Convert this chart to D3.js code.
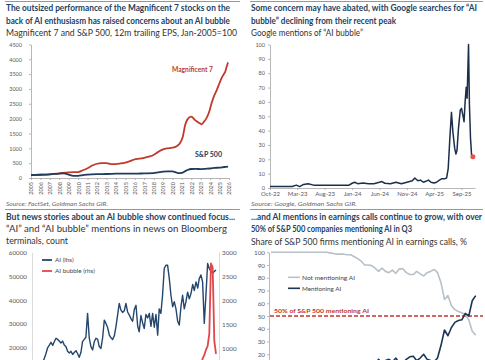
<!DOCTYPE html>
<html><head><meta charset="utf-8">
<script src="https://cdn.jsdelivr.net/npm/d3@7"></script>
<style>body{margin:0;background:#fff}svg{display:block;font-family:Lato,"Open Sans",sans-serif}</style>
</head><body><div id="c"></div>
<script>
// ---------- Panel 1 data: 12m trailing EPS, Jan-2005 = 100 ----------
const p1Years = [2005,2006,2007,2008,2009,2010,2011,2012,2013,2014,2015,2016,2017,2018,2019,2020,2021,2022,2023,2024,2025,2026];
const m7Years = [2005,2006,2007,2008,2009,2010,2010.5,2011,2011.5,2012,2012.5,2013,2013.5,2014,2014.5,2015,2015.5,2016,2016.5,2017,2017.5,2018,2018.5,2019,2019.5,2020,2020.5,2020.8,2021.1,2021.35,2021.6,2022,2022.4,2022.8,2023.1,2023.35,2023.6,2023.9,2024.15,2024.4,2024.7,2025,2025.2,2025.45,2025.6,2025.75,2025.9];
const m7Values = [100,110,125,158,190,200,260,330,420,480,500,500,470,470,490,520,570,630,650,680,720,775,880,965,1000,1020,1080,1170,1390,1785,1975,2065,1950,1860,1808,1900,2010,2233,2515,2750,2963,3200,3356,3500,3580,3750,3895];
const spxYears = [2005,2006,2007,2008,2008.5,2009,2009.5,2010,2010.5,2011,2012,2013,2014,2015,2016,2017,2018,2018.5,2019,2019.5,2020,2020.3,2020.6,2021,2021.3,2021.6,2022,2022.5,2023,2023.5,2024,2024.5,2025,2025.5,2025.9];
const spxValues = [100,110,125,150,155,110,70,72,100,115,130,135,145,150,145,155,165,190,213,225,225,200,165,175,220,270,303,305,300,310,320,340,350,370,380];
const p1YTicks = [0,500,1000,1500,2000,2500,3000,3500,4000,4500];

// ---------- Panel 2 data: Google mentions of "AI bubble" ----------
const gDates = ["2022-10-01","2023-02-01","2023-02-25","2023-03-15","2023-04-06","2023-05-01","2023-06-01","2023-09-01","2023-10-01","2023-12-15","2024-01-01","2024-01-15","2024-02-01","2024-03-01","2024-04-01","2024-05-01","2024-06-01","2024-06-15","2024-07-01","2024-08-01","2024-09-01","2024-10-01","2024-11-01","2024-12-01","2024-12-15","2025-01-01","2025-01-15","2025-02-01","2025-03-01","2025-03-15","2025-04-01","2025-04-15","2025-05-01","2025-05-15","2025-06-01","2025-06-10","2025-06-19","2025-06-28","2025-07-07","2025-07-15","2025-07-25","2025-08-01","2025-08-07","2025-08-15","2025-08-25","2025-09-01","2025-09-10","2025-09-15","2025-09-21","2025-09-27","2025-10-02","2025-10-10","2025-10-15","2025-10-21","2025-10-27","2025-11-03"];
const gValues = [1,1,2,1,2.5,3,2,2,2,2,3.3,4,3,3.5,3,3,4,4.5,3.3,3,4,3,4,5,7,5,5.5,4,5.5,4,3.5,4,5.5,6.5,6.5,7,13.7,34.6,52.7,39,27.6,23.7,26.5,41.6,54.3,55.5,49.7,46.2,60,70.2,62.5,100,58,34.6,23,21.8];
const gTickDates = ["2022-10-01","2023-03-01","2023-08-01","2024-01-01","2024-06-01","2024-11-01","2025-04-01","2025-09-01"];
const gYTicks = [0,10,20,30,40,50,60,70,80,90,100];

// ---------- Panel 3 data: Bloomberg news mentions (monthly) ----------
const newsStart = "2017-01-01";
const aiNews = [6000,8000,9000,11000,13500,15500,17500,20000,21100,22300,
21000,22500,24000,23500,22800,22000,22800,21200,20500,18500,
17800,18500,17200,18000,18800,17500,16000,18000,22600,23500,
24400,34400,24000,20500,19100,22500,24000,23500,20500,19700,
24000,31600,30200,28500,25300,24200,23500,25000,29000,34000,
38600,35800,34800,35500,38600,35000,33700,32200,31100,36000,
37800,29000,26700,33500,30500,28100,34000,32500,34400,29000,
34400,28600,34000,25300,36300,34400,42000,53200,54600,54600,
49000,42000,37200,39300,36300,31100,29500,37200,42000,36300,
39300,43300,40500,42700,46500,44000,47600,45000,49000,50500,
47600,30200,42000,55300,53200,52000,51200,52000,52600];
const aiBubble = [30,35,40,32,45,38,50,42,36,48,
40,52,45,38,55,47,42,50,58,44,
46,52,60,48,55,62,50,58,65,70,
60,72,66,58,75,68,80,70,64,78,
85,72,90,80,76,95,88,82,100,92,
98,110,95,105,120,100,112,125,108,118,
130,115,140,125,135,150,128,145,160,138,
150,170,145,160,180,155,175,190,165,185,
200,175,210,190,220,200,235,215,250,230,
260,240,280,300,260,320,350,380,400,600,
780,850,960,1040,1300,2760,2680,1150,880];
const newsLTicks = [20000,30000,40000,50000,60000];
const newsRTicks = [1000,1500,2000,2500,3000];

// ---------- Panel 4 data: share of S&P 500 firms mentioning AI (quarterly) ----------
const notMentioning = [100,100,100,100,100,100,100,100,100,100,100,100,100,100,100,100,100,
99.5,99,98.5,98.5,98.5,98,98,
96.5,95,93,90,90,89.5,87.5,
85,87.5,85,84,86,83.5,87,87,84,82.5,
82.5,85,83,81.5,84,85,86.5,84,76,63,
66,58,55,53.5,52.5,51,47,38,35];
const mentioning = [0,0,0,0,0,0.5,0,1,0.5,1,1,1.5,1,1.5,2,1.5,2,
2,3,3,3.5,3,4,4,
5,6,8,10,10,11,12.5,
16,13,15,16,14,17,13,13,16,18,
18.5,15,17,20,16,15,14,17,27,39,
34.5,41,45,46.5,47,52,50,62,66];
const earnYTicks = [20,30,40,50,60,70,80,90,100];
const threshold = 50;

// ---------- drawing ----------
const W = 485, H = 360;
const NAVY = "#1f3b5e", RED = "#c0392b", TITLE = "#24415e", SUB = "#333", TICK = "#595959", AX = "#a6a6a6";
const FMT = d3.format("d");
const svg = d3.select("#c").append("svg").attr("width", W).attr("height", H);
svg.append("rect").attr("width", W).attr("height", H).attr("fill", "#fff");

function txt(t, x, y, opt) {
  const e = svg.append("text").attr("x", x).attr("y", y).text(t)
    .attr("font-size", opt.size || 8.5)
    .attr("font-weight", opt.bold ? "bold" : "normal")
    .attr("font-style", opt.italic ? "italic" : "normal")
    .attr("fill", opt.fill || SUB);
  if (opt.anchor) e.attr("text-anchor", opt.anchor);
  if (opt.w) e.attr("textLength", opt.w).attr("lengthAdjust", "spacingAndGlyphs");
  return e;
}
function sep(x1, x2, y) {
  svg.append("line").attr("x1", x1).attr("x2", x2).attr("y1", y).attr("y2", y)
    .attr("stroke", "#8c99a6").attr("stroke-width", 1);
}
function styleAxis(g, fs) {
  g.select(".domain").attr("stroke", AX).attr("stroke-width", 0.8);
  g.selectAll(".tick line").attr("stroke", AX).attr("stroke-width", 0.8);
  g.selectAll(".tick text").attr("fill", TICK).attr("font-size", fs).attr("font-family", "Lato, 'Open Sans', sans-serif");
}

// separators
sep(5, 240, 1.5); sep(250, 483, 1.5);
sep(5, 240, 209.5); sep(250, 483, 209.5);

// ===== Panel 1 =====
txt("The outsized performance of the Magnificent 7 stocks on the", 6, 10.5, {bold: true, fill: TITLE, w: 224});
txt("back of AI enthusiasm has raised concerns about an AI bubble", 6, 24, {bold: true, fill: TITLE, w: 224});
txt("Magnificent 7 and S&P 500, 12m trailing EPS, Jan-2005=100", 6, 36, {w: 231});
txt("Source: FactSet, Goldman Sachs GIR.", 6, 205.5, {italic: true, size: 6, fill: "#666", w: 102});

const x1 = d3.scaleLinear().domain([2005, 2026]).range([31, 229]);
const y1 = d3.scaleLinear().domain([0, 4500]).range([178, 44.4]);
const gx1 = svg.append("g").attr("transform", "translate(0,178)")
  .call(d3.axisBottom(x1).tickValues(p1Years).tickFormat(FMT).tickSize(2).tickSizeOuter(0));
styleAxis(gx1, 5.5);
gx1.selectAll(".tick text").attr("transform", "rotate(-90)").attr("text-anchor", "end")
  .attr("x", -4).attr("y", 0).attr("dy", "0.35em");
const gy1 = svg.append("g").attr("transform", "translate(31,0)")
  .call(d3.axisLeft(y1).tickValues(p1YTicks).tickFormat(FMT).tickSize(2).tickPadding(7).tickSizeOuter(0));
styleAxis(gy1, 5.5);

const line1 = d3.line().x(d => x1(d[0])).y(d => y1(d[1])).curve(d3.curveMonotoneX);
svg.append("path").datum(m7Years.map((y, i) => [y, m7Values[i]]))
  .attr("d", line1).attr("fill", "none").attr("stroke", RED).attr("stroke-width", 1.8);
svg.append("path").datum(spxYears.map((y, i) => [y, spxValues[i]]))
  .attr("d", line1).attr("fill", "none").attr("stroke", NAVY).attr("stroke-width", 1.8);
txt("Magnificent 7", 172, 72, {bold: true, size: 6.5, fill: RED, w: 41});
txt("S&P 500", 195, 156.5, {bold: true, size: 6.5, fill: NAVY, w: 27});

// ===== Panel 2 =====
txt("Some concern may have abated, with Google searches for \u201CAI", 251, 10.5, {bold: true, fill: TITLE, w: 226});
txt("bubble\u201D declining from their recent peak", 251, 24, {bold: true, fill: TITLE, w: 145});
txt("Google mentions of \u201CAI bubble\u201D", 251, 36, {w: 112});
txt("Source: Google, Goldman Sachs GIR.", 251, 205.5, {italic: true, size: 6, fill: "#666", w: 106});

const parse = d3.timeParse("%Y-%m-%d");
const x2 = d3.scaleTime().domain([parse("2022-10-01"), parse("2025-11-15")]).range([270, 475]);
const y2 = d3.scaleLinear().domain([0, 100]).range([188, 44.5]);
const gx2 = svg.append("g").attr("transform", "translate(0,188)")
  .call(d3.axisBottom(x2).tickValues(gTickDates.map(parse)).tickFormat(d3.timeFormat("%b-%y")).tickSize(2).tickPadding(2).tickSizeOuter(0));
styleAxis(gx2, 6);
const gy2 = svg.append("g").attr("transform", "translate(270,0)")
  .call(d3.axisLeft(y2).tickValues(gYTicks).tickFormat(FMT).tickSize(2).tickPadding(3).tickSizeOuter(0));
styleAxis(gy2, 5.5);
const gData = gDates.map((d, i) => [parse(d), gValues[i]]);
svg.append("path").datum(gData)
  .attr("d", d3.line().x(d => x2(d[0])).y(d => y2(d[1])))
  .attr("fill", "none").attr("stroke", "#1b2f4a").attr("stroke-width", 1.5).attr("stroke-linejoin", "round");
const last = gData[gData.length - 1];
svg.append("circle").attr("cx", x2(last[0])).attr("cy", y2(last[1])).attr("r", 2.5).attr("fill", "#e8534f");

// ===== Panel 3 =====
txt("But news stories about an AI bubble show continued focus...", 6, 219.5, {bold: true, fill: TITLE, w: 229});
txt("\u201CAI\u201D and \u201CAI bubble\u201D mentions in news on Bloomberg", 6, 232, {w: 221});
txt("terminals, count", 6, 243.5, {w: 62});

const start3 = parse(newsStart);
const newsDates = aiNews.map((_, i) => d3.timeMonth.offset(start3, i));
const x3 = d3.scaleTime().domain([newsDates[0], newsDates[newsDates.length - 1]]).range([36, 216]);
const y3L = d3.scaleLinear().domain([0, 60000]).range([395.5, 252.3]);
const y3R = d3.scaleLinear().domain([0, 3000]).range([396, 252]);
const gy3L = svg.append("g").attr("transform", "translate(32,0)")
  .call(d3.axisLeft(y3L).tickValues(newsLTicks).tickFormat(FMT).tickSize(0).tickPadding(5).tickSizeOuter(0));
styleAxis(gy3L, 6.3); gy3L.select(".domain").attr("stroke", "#d0d0d0");
const gy3R = svg.append("g").attr("transform", "translate(219,0)")
  .call(d3.axisRight(y3R).tickValues(newsRTicks).tickFormat(FMT).tickSize(0).tickPadding(3).tickSizeOuter(0));
styleAxis(gy3R, 6.3); gy3R.select(".domain").attr("stroke", "#d0d0d0");

svg.append("path").datum(aiNews.map((v, i) => [newsDates[i], v]))
  .attr("d", d3.line().x(d => x3(d[0])).y(d => y3L(d[1])))
  .attr("fill", "none").attr("stroke", "#24466c").attr("stroke-width", 1.4).attr("stroke-linejoin", "round");
svg.append("path").datum(aiBubble.map((v, i) => [newsDates[i], v]))
  .attr("d", d3.line().x(d => x3(d[0])).y(d => y3R(d[1])))
  .attr("fill", "none").attr("stroke", "#e0474c").attr("stroke-width", 1.8).attr("stroke-linejoin", "round");
// legend
svg.append("line").attr("x1", 42).attr("x2", 52).attr("y1", 260).attr("y2", 260).attr("stroke", "#24466c").attr("stroke-width", 1.8);
txt("AI (lhs)", 55, 262.2, {size: 6.3, fill: "#444"});
svg.append("line").attr("x1", 42).attr("x2", 52).attr("y1", 271).attr("y2", 271).attr("stroke", "#e0474c").attr("stroke-width", 1.8);
txt("AI bubble (rhs)", 55, 273.2, {size: 6.3, fill: "#444"});

// ===== Panel 4 =====
txt("...and AI mentions in earnings calls continue to grow, with over", 251, 219.5, {bold: true, fill: TITLE, w: 231});
txt("50% of S&P 500 companies mentioning AI in Q3", 251, 232, {bold: true, fill: TITLE, w: 161});
txt("Share of S&P 500 firms mentioning AI in earnings calls, %", 251, 244.5, {w: 216});

const x4 = d3.scaleLinear().domain([0, notMentioning.length - 1]).range([271, 475.7]);
const y4 = d3.scaleLinear().domain([0, 100]).range([379.75, 252.25]);
const gy4 = svg.append("g").attr("transform", "translate(269,0)")
  .call(d3.axisLeft(y4).tickValues(earnYTicks).tickFormat(FMT).tickSize(2).tickPadding(2).tickSizeOuter(0));
styleAxis(gy4, 6.3);
svg.append("line").attr("x1", 270).attr("x2", 483).attr("y1", y4(threshold)).attr("y2", y4(threshold))
  .attr("stroke", RED).attr("stroke-width", 1.4).attr("stroke-dasharray", "4,2");
txt("50% of S&P 500 mentioning AI", 274, 313, {bold: true, size: 6.3, fill: RED, w: 95});
const line4 = d3.line().x((d, i) => x4(i)).y(d => y4(d));
svg.append("path").datum(notMentioning).attr("d", line4)
  .attr("fill", "none").attr("stroke", "#b8c0c8").attr("stroke-width", 1.6).attr("stroke-linejoin", "round");
svg.append("path").datum(mentioning).attr("d", line4)
  .attr("fill", "none").attr("stroke", "#1c3553").attr("stroke-width", 1.6).attr("stroke-linejoin", "round");
svg.append("line").attr("x1", 288).attr("x2", 300).attr("y1", 277.3).attr("y2", 277.3).attr("stroke", "#b8c0c8").attr("stroke-width", 1.6);
txt("Not mentioning AI", 302, 279.5, {size: 6.3, fill: "#444", w: 53});
svg.append("line").attr("x1", 288).attr("x2", 300).attr("y1", 288.3).attr("y2", 288.3).attr("stroke", "#1c3553").attr("stroke-width", 1.6);
txt("Mentioning AI", 302, 290.5, {size: 6.3, fill: "#444"});
</script></body></html>
